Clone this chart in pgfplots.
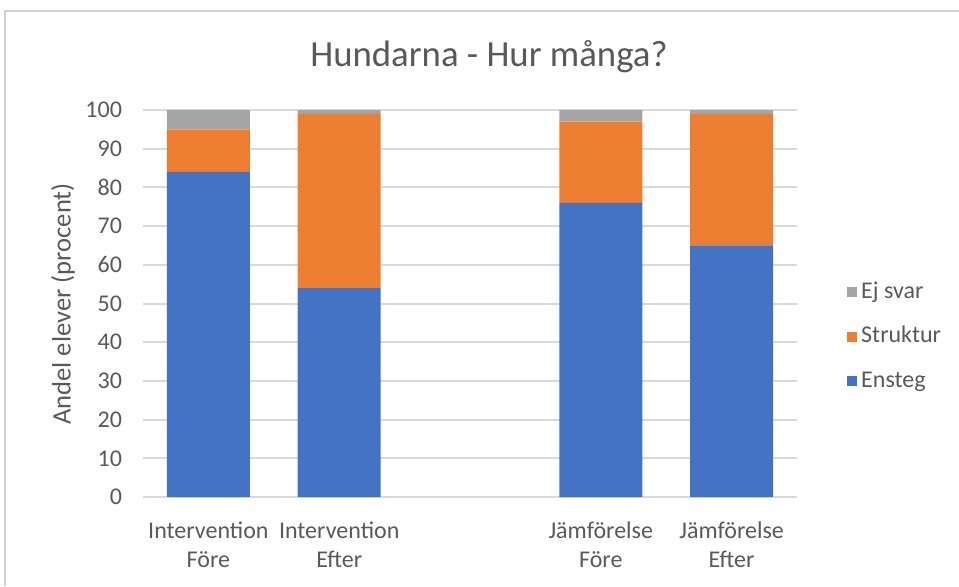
\documentclass[border=0pt]{standalone}
\usepackage{pgfplots}
\pgfplotsset{compat=1.18}
\usepackage{fontspec}
\setmainfont{Carlito}
\definecolor{cblue}{HTML}{4472C4}
\definecolor{corange}{HTML}{ED7D31}
\definecolor{cgray}{HTML}{A5A5A5}
\definecolor{gridc}{HTML}{D9D9D9}
\definecolor{framec}{HTML}{D0D0D0}
\definecolor{textc}{HTML}{595959}
\begin{document}
\begin{tikzpicture}
\path[use as bounding box] (0pt,0pt) rectangle (479.5pt,293pt);
\draw[color=framec, line width=0.8pt] (2.5pt,0pt) -- (2.5pt,287.5pt) -- (479.5pt,287.5pt);
\node[text=textc, font=\fontsize{18.4}{22}\selectfont] at (244.5pt,264.5pt) {Hundarna - Hur många?};
\node[text=textc, rotate=90, font=\fontsize{13.3}{16}\selectfont] at (31.5pt,141pt) {Andel elever (procent)};
\begin{axis}[
  at={(71.5pt,44.5pt)}, anchor=south west,
  scale only axis, width=327pt, height=193.5pt,
  xmin=-0.5, xmax=4.5, ymin=0, ymax=100,
  ybar stacked, bar width=0.634,
  /pgf/number format/assume math mode=true,
  xtick={0,1,3,4},
  xticklabels={{Intervention\\Före},{Intervention\\Efter},{Jämförelse\\Före},{Jämförelse\\Efter}},
  xticklabel style={align=center, font=\fontsize{12}{14.5}\selectfont, text=textc, yshift=-9pt},
  ytick={0,10,...,100},
  yticklabel style={font=\fontsize{12}{14.5}\selectfont, text=textc, xshift=-7pt},
  major tick length=0pt,
  ymajorgrids, grid style={color=gridc, line width=1pt},
  axis line style={draw=none},
  reverse legend,
  legend cell align=left,
  legend image code/.code={\fill[#1] (0pt,-2.5pt) rectangle (5pt,2.5pt);},
  legend style={at={(rel axis cs:1.067,0.4147)}, anchor=west, draw=none, fill=none,
    font=\fontsize{12}{14.5}\selectfont, text=textc, row sep=6.25pt,
    nodes={text height=9pt, text depth=3pt, inner sep=2pt}},
]
\addplot[fill=cblue, draw=none] coordinates {(0,84) (1,54) (3,76) (4,65)};
\addlegendentry{Ensteg}
\addplot[fill=corange, draw=none] coordinates {(0,11) (1,45) (3,21) (4,34)};
\addlegendentry{Struktur}
\addplot[fill=cgray, draw=none] coordinates {(0,5) (1,1) (3,3) (4,1)};
\addlegendentry{Ej svar}
\end{axis}
\end{tikzpicture}
\end{document}
